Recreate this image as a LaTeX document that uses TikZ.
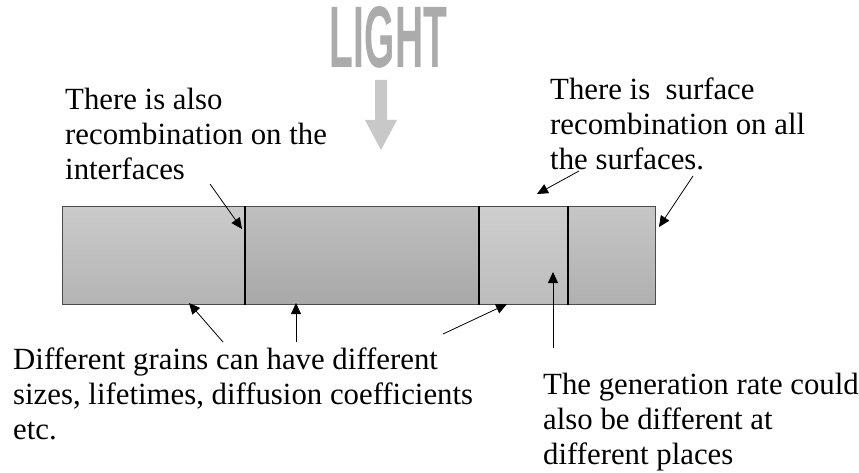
\documentclass[tikz,border=0pt]{standalone}
\usepackage{fontspec}
\setmainfont{Liberation Serif}
\newfontfamily\lightfont{Liberation Sans}
\usetikzlibrary{arrows.meta}
\definecolor{gonet}{HTML}{CACACA}
\definecolor{goneb}{HTML}{B4B4B4}
\definecolor{gtwot}{HTML}{BFBFBF}
\definecolor{gtwob}{HTML}{A8A8A8}
\definecolor{gthreet}{HTML}{CECECE}
\definecolor{gthreeb}{HTML}{BCBCBC}
\definecolor{gfourt}{HTML}{C6C6C6}
\definecolor{gfourb}{HTML}{B0B0B0}
\definecolor{lightgray}{HTML}{ABABAB}
\definecolor{arrowgray}{HTML}{C8C8C8}
\begin{document}
\begin{tikzpicture}[x=1pt,y=-1pt,
  lbl/.style={anchor=north west, inner sep=0pt, align=left,
    font=\fontsize{30.8}{35}\selectfont},
  grain/.style={anchor=north west, inner sep=0pt, minimum height=98pt,
    draw=black!70, line width=0.9pt},
  divider/.style={draw=black, line width=1.8pt},
  ptr/.style={draw=black, line width=0.8pt, -{Triangle[length=11pt,width=10pt]}}]
\useasboundingbox (0,0) rectangle (859,473);
\fill[white] (0,0) rectangle (859,473);

% LIGHT heading and arrow
\node[inner sep=0pt, text=lightgray] (light) at (388.5,37.5)
  {\resizebox{117pt}{61pt}{\lightfont\bfseries LIGHT}};
\fill[arrowgray] (375,80) -- (387,80) -- (387,120) -- (397,120) -- (381,150)
  -- (365,120) -- (375,120) -- cycle;

% grains
\node[grain, minimum width=182pt, top color=gonet, bottom color=goneb] (g1) at (62,206) {};
\node[grain, minimum width=234pt, top color=gtwot, bottom color=gtwob] (g2) at (244,206) {};
\node[grain, minimum width=89pt, top color=gthreet, bottom color=gthreeb] (g3) at (478,206) {};
\node[grain, minimum width=88pt, top color=gfourt, bottom color=gfourb] (g4) at (567,206) {};
\draw[divider] (g1.north east) -- (g1.south east);
\draw[divider] (g2.north east) -- (g2.south east);
\draw[divider] (g3.north east) -- (g3.south east);

% texts
\node[lbl] (tinter) at (65,87.5) {There is also\\recombination on the\\interfaces};
\node[lbl] (tsurf) at (550,77.5) {There is\ \ surface\\recombination on all\\the surfaces.};
\node[lbl] (tgrain) at (13,347.5) {Different grains can have different\\sizes, lifetimes, diffusion coefficients\\etc.};
\node[lbl] (tgen) at (543,372.5) {The generation rate could\\also be different at\\different places};

% arrow end points
\coordinate (a1s) at (210,184); \coordinate (a1e) at (242,229);
\coordinate (a2s) at (223,342); \coordinate (a2e) at (189,303);
\coordinate (a3s) at (296,342); \coordinate (a3e) at (296,303);
\coordinate (a4s) at (443,334); \coordinate (a4e) at (507,304);
\coordinate (a5s) at (579,171); \coordinate (a5e) at (537,194);
\coordinate (a6s) at (693,176); \coordinate (a6e) at (659,227);
\coordinate (a7s) at (553,348); \coordinate (a7e) at (553,272);

\draw[ptr] (a1s) -- (a1e);
\draw[ptr] (a2s) -- (a2e);
\draw[ptr] (a3s) -- (a3e);
\draw[ptr] (a4s) -- (a4e);
\draw[ptr] (a5s) -- (a5e);
\draw[ptr] (a6s) -- (a6e);
\draw[ptr] (a7s) -- (a7e);
\end{tikzpicture}
\end{document}
